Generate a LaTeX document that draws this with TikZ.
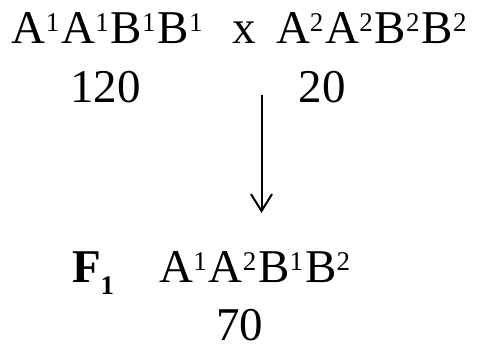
\documentclass[tikz,border=0pt]{standalone}
\usepackage{fontspec}
\setmainfont{Liberation Serif}
\usetikzlibrary{arrows.meta}
\newcommand\supx[1]{\raisebox{12pt}{\fontsize{27}{27}\selectfont #1}\kern2pt}
\newcommand\subx[1]{\raisebox{-12pt}{\fontsize{27}{27}\selectfont #1}}
\tikzset{
  txt/.style={anchor=base west,inner sep=0pt,outer sep=0pt,font=\fontsize{47}{47}\selectfont},
  arr/.style={line width=2pt,-{Straight Barb[length=17pt,width=21pt,line width=2pt]}}
}
\begin{document}
\begin{tikzpicture}[x=1pt,y=1pt]
\useasboundingbox (0,0) rectangle (479,347);
\node[txt] (p1) at (12,303) {A\supx{1}A\supx{1}B\supx{1}B\supx{1}};
\node[txt] (x) at (232,303) {x};
\node[txt] (p2) at (276,303) {A\supx{2}A\supx{2}B\supx{2}B\supx{2}};
\node[txt] (n1) at (70,244) {120};
\node[txt] (n2) at (298.5,244) {20};
\node[txt] (f1) at (72,64.5) {\textbf{F\subx{1}}};
\node[txt] (g) at (159.5,64.5) {A\supx{1}A\supx{2}B\supx{1}B\supx{2}};
\node[txt] (n3) at (216,6) {\raisebox{0pt}[\height][0pt]{70}};
\coordinate (top) at (261.5,252);
\coordinate (bot) at (261.5,134);
\draw[arr] (top) -- (bot);
\end{tikzpicture}
\end{document}
